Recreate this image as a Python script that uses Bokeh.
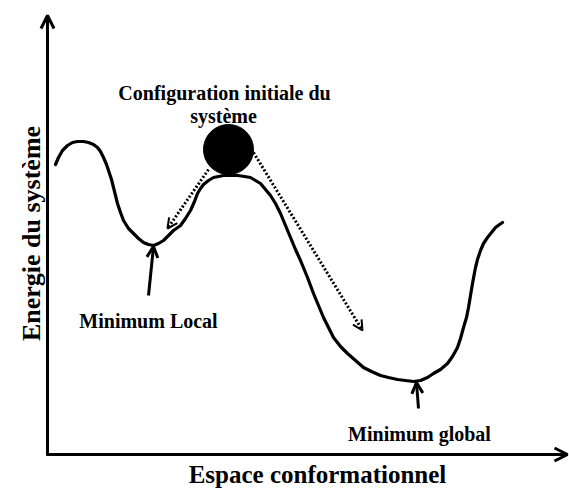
import math
from bokeh.plotting import figure
from bokeh.models import Range1d, Arrow, OpenHead, Label, ColumnDataSource
from bokeh.embed import file_html
from bokeh.resources import INLINE

# ---- data: energy landscape (conformational space vs energy) ----
conformation = [55, 58, 62, 67, 72, 77, 83, 88, 93, 97, 100, 103, 106, 108, 111,
                113, 117, 120, 123, 128, 133, 138, 143, 148, 153,
                158, 163, 168, 173, 180, 185, 190, 194, 197, 200, 203, 208, 213,
                218, 223, 230, 237, 244, 250, 255, 260, 265, 270, 275, 280,
                285, 290, 295, 300, 307, 313, 318, 323, 328, 333, 340, 347, 355,
                363, 371, 380, 388, 397, 405, 413, 420, 427, 433, 440, 447, 452,
                457, 460, 463, 466, 468, 470, 472, 475, 477, 480, 483, 487, 491,
                495, 499, 502]
energy = [325, 332, 339, 344, 347, 348, 348, 347, 345, 342, 338, 332, 325, 319, 310,
          302, 286, 277, 269, 261, 256, 251, 247, 245, 244,
          246, 249, 254, 259, 264, 271, 279, 288, 296, 301, 305, 309, 312,
          313, 314, 314, 314, 313, 312, 309, 306, 300, 294, 286, 276,
          264, 252, 240, 229, 212, 196, 184, 172, 162, 152, 143, 136, 129,
          122, 118, 114, 112, 110, 109, 108, 109, 112, 116, 120, 126, 133,
          142, 151, 162, 172, 182, 194, 206, 222, 230, 239, 246, 252, 257,
          262, 265, 267]

# initial configuration (ball)
ball_x = [228]
ball_y = [340]

# labels
label_top_1 = "Configuration initiale du"
label_top_2 = "système"
label_local = "Minimum Local"
label_global = "Minimum global"
xlabel = "Espace conformationnel"
ylabel = "Energie du système"

FONT = "Liberation Serif"
INK = "#000000"

p = figure(width=569, height=489, output_backend="svg", toolbar_location=None,
           x_range=Range1d(0, 569), y_range=Range1d(0, 489),
           x_axis_type=None, y_axis_type=None, min_border=0,
           background_fill_color="white", border_fill_color="white")
p.outline_line_color = None
p.grid.visible = False

# axes with arrows
p.add_layout(Arrow(x_start=47, y_start=34, x_end=47, y_end=474, line_width=3,
                   line_color=INK, end=OpenHead(size=13, line_width=3, line_color=INK)))
p.add_layout(Arrow(x_start=46, y_start=35, x_end=567, y_end=35, line_width=3,
                   line_color=INK, end=OpenHead(size=13, line_width=3, line_color=INK)))

# energy curve
src = ColumnDataSource(dict(x=conformation, y=energy))
p.line("x", "y", source=src, line_width=3.2, line_color=INK, line_join="round", line_cap="round")

# ball
p.circle(x=ball_x, y=ball_y, radius=25, fill_color=INK, line_color=INK)

# dotted arrows
p.add_layout(Arrow(x_start=208, y_start=320, x_end=167, y_end=261, line_width=3,
                   line_dash="2 2", line_color=INK,
                   end=OpenHead(size=10, line_width=2, line_color=INK)))
p.add_layout(Arrow(x_start=253, y_start=337, x_end=362, y_end=159, line_width=3,
                   line_dash="2 2", line_color=INK,
                   end=OpenHead(size=10, line_width=2, line_color=INK)))

# solid arrows to minima
p.add_layout(Arrow(x_start=148, y_start=194, x_end=153, y_end=243, line_width=3,
                   line_color=INK, end=OpenHead(size=11, line_width=3, line_color=INK)))
p.add_layout(Arrow(x_start=418, y_start=81, x_end=416, y_end=107, line_width=3,
                   line_color=INK, end=OpenHead(size=11, line_width=3, line_color=INK)))

def lab(x, y, t, size, angle=0.0, baseline="alphabetic"):
    p.add_layout(Label(x=x, y=y, text=t, text_font=FONT, text_font_style="bold",
                       text_font_size=size, text_color=INK, text_align="center",
                       text_baseline=baseline, angle=angle))

lab(224, 397, label_top_1, "20px")
lab(223, 374, label_top_2, "20px")
lab(148, 169, label_local, "20px")
lab(419, 56, label_global, "20px")
lab(317, 2, xlabel, "25px", baseline="bottom")
lab(31, 256, ylabel, "26px", angle=math.pi / 2)

open("out.html", "w").write(file_html(p, INLINE))
